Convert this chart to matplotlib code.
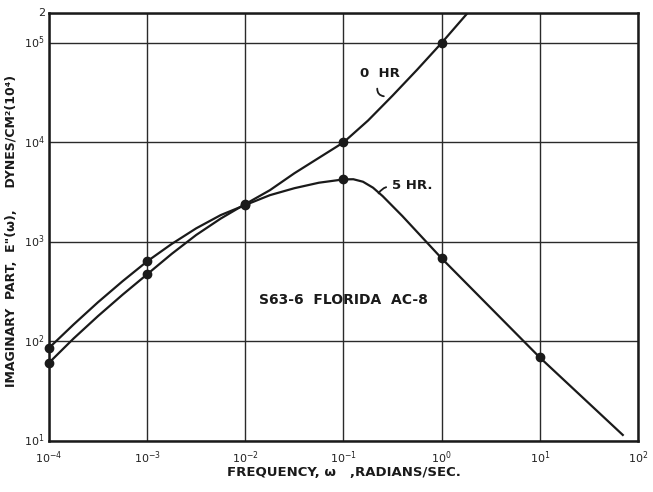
import numpy as np
import matplotlib
matplotlib.use('Agg')
from matplotlib import pyplot as plt

plt.rcParams['font.family'] = ['DejaVu Sans']

# measured points, 0 hr and 5 hr aging
freq_marks_0 = [1e-4, 1e-3, 1e-2, 1e-1, 1e0]
e2_marks_0 = [61, 473, 2400, 1.0e4, 1.0e5]
freq_marks_5 = [1e-4, 1e-3, 1e-2, 1e-1, 1e0, 1e1]
e2_marks_5 = [86, 638, 2350, 4250, 684, 69]

# traced curves
freq_curve_0 = [1e-4, 1.78e-4, 3.16e-4, 5.62e-4, 1e-3, 1.78e-3, 3.16e-3, 5.62e-3,
                1e-2, 1.78e-2, 3.16e-2, 5.62e-2, 0.1, 0.178, 0.316, 0.562, 1.0, 1.84]
e2_curve_0 = [61, 107, 180, 295, 473, 759, 1175, 1718,
              2400, 3311, 4898, 7000, 1.0e4, 16600, 29500, 53700, 1.0e5, 2.0e5]
freq_curve_5 = [1e-4, 1.78e-4, 3.16e-4, 5.62e-4, 1e-3, 1.78e-3, 3.16e-3, 5.62e-3,
                1e-2, 1.78e-2, 3.16e-2, 5.62e-2, 0.1, 0.126, 0.158, 0.2, 0.251,
                0.316, 0.398, 1.0, 10.0, 70.0]
e2_curve_5 = [86, 148, 248, 403, 638, 955, 1370, 1862,
              2350, 2951, 3467, 3936, 4250, 4266, 4027, 3508, 2884,
              2291, 1820, 684, 69, 11.5]

xticks = [1e-4, 1e-3, 1e-2, 1e-1, 1e0, 1e1, 1e2]
xlabels = [r'$10^{-4}$', r'$10^{-3}$', r'$10^{-2}$', r'$10^{-1}$',
           r'$10^{0}$', r'$10^{1}$', r'$10^{2}$']
yticks = [1e1, 1e2, 1e3, 1e4, 1e5, 2e5]
ylabels = [r'$10^{1}$', r'$10^{2}$', r'$10^{3}$', r'$10^{4}$', r'$10^{5}$', '2']


def main():
    fig = plt.figure(figsize=(6.53, 4.92), dpi=100)
    ax = fig.add_axes([0.075, 0.1037, 0.902, 0.870])
    ax.set_xscale('log')
    ax.set_yscale('log')
    ax.set_xlim(1e-4, 1e2)
    ax.set_ylim(1e1, 2e5)

    ax.plot(freq_curve_0, e2_curve_0, color='#1a1a1a', lw=1.6)
    ax.plot(freq_curve_5, e2_curve_5, color='#1a1a1a', lw=1.6)
    ax.plot(freq_marks_0, e2_marks_0, 'o', color='#1a1a1a', ms=6, clip_on=False)
    ax.plot(freq_marks_5, e2_marks_5, 'o', color='#1a1a1a', ms=6, clip_on=False)

    ax.set_xticks(xticks)
    ax.set_xticklabels(xlabels)
    ax.set_yticks(yticks)
    ax.set_yticklabels(ylabels)
    ax.minorticks_off()
    ax.tick_params(length=0, labelsize=8, colors='#222222')
    ax.tick_params(axis='y', pad=3)
    ax.tick_params(axis='x', pad=6)
    for tl in ax.get_yticklabels():
        tl.set_verticalalignment('center')

    ax.grid(True, color='#2a2a2a', lw=1.0)
    for sp in ax.spines.values():
        sp.set_linewidth(1.8)
        sp.set_color('#1a1a1a')

    # curve labels with hand-drawn leaders
    ax.text(0.235, 4.9e4, '0  HR', fontsize=9.5, fontweight='bold',
            ha='center', va='center', color='#1a1a1a')
    ax.annotate('', xy=(0.275, 2.9e4), xytext=(0.222, 3.7e4),
                arrowprops=dict(arrowstyle='-', color='#1a1a1a', lw=1.3,
                                connectionstyle='arc3,rad=0.6'))
    ax.text(0.31, 3.7e3, '5 HR.', fontsize=9.5, fontweight='bold',
            ha='left', va='center', color='#1a1a1a')
    ax.annotate('', xy=(0.29, 3.6e3), xytext=(0.222, 2.9e3),
                arrowprops=dict(arrowstyle='-', color='#1a1a1a', lw=1.3,
                                connectionstyle='arc3,rad=-0.3'))

    ax.text(0.1, 2.6e2, 'S63-6  FLORIDA  AC-8', fontsize=10, fontweight='bold',
            ha='center', va='center', color='#1a1a1a')

    ax.set_xlabel('FREQUENCY, \u03c9   ,RADIANS/SEC.', fontsize=9.5,
                  fontweight='bold', labelpad=0, color='#1a1a1a')
    ax.set_ylabel('IMAGINARY  PART,  E"(\u03c9),     DYNES/CM\u00b2(10\u2074)',
                  fontsize=9, fontweight='bold', color='#1a1a1a')
    ax.yaxis.set_label_coords(-0.053, 0.49)

    fig.savefig('out.png', dpi=100, facecolor='white')


if __name__ == "__main__":
    main()
